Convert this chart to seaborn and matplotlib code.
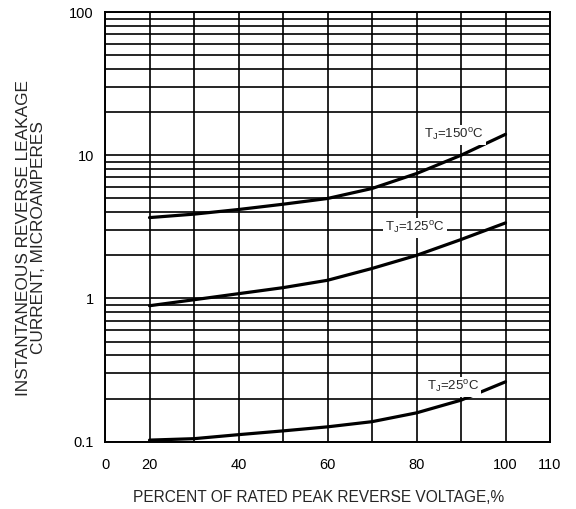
import matplotlib
matplotlib.use("Agg")
import matplotlib.pyplot as plt
import matplotlib.ticker as mticker
import seaborn as sns
import pandas as pd

# percent of rated peak reverse voltage
pct = [20, 30, 40, 50, 60, 70, 80, 90, 100]

# leakage current (microamperes)
i_150 = [3.67, 3.88, 4.18, 4.55, 4.99, 5.86, 7.45, 10.0, 14.0]
i_125 = [0.89, 0.98, 1.08, 1.19, 1.34, 1.62, 2.0, 2.58, 3.37]
i_25 = [0.1026, 0.105, 0.112, 0.119, 0.127, 0.138, 0.159, 0.195, 0.262]

curve_names = ["150", "125", "25"]
label_pos = {"150": (88.4, 13.8), "125": (79.7, 3.1), "25": (88.2, 0.24)}

x_ticks = [10, 20, 40, 60, 80, 100, 110]
x_tick_labels = ["0", "20", "40", "60", "80", "100", "110"]
x_minor = [30, 50, 70, 90]
y_ticks = [0.1, 1, 10, 100]
y_tick_labels = ["0.1", "1", "10", "100"]

df = pd.concat([
    pd.DataFrame({"pct": pct, "current": vals, "tj": name})
    for name, vals in zip(curve_names, [i_150, i_125, i_25])
])

sns.set_style("white")
plt.rcParams["font.family"] = ["Liberation Sans", "DejaVu Sans"]
plt.rcParams["mathtext.fontset"] = "custom"
plt.rcParams["mathtext.rm"] = "Liberation Sans"

fig = plt.figure(figsize=(5.76, 5.09), dpi=100)
ax = fig.add_axes([0.1823, 0.1322, 0.9549 - 0.1823, 0.9764 - 0.1322])

sns.lineplot(data=df, x="pct", y="current", units="tj", estimator=None,
             color="black", linewidth=2.3, ax=ax, zorder=5)

ax.set_yscale("log")
ax.set_xlim(10, 110)
ax.set_ylim(0.1, 100)

ax.set_xticks(x_ticks)
ax.set_xticklabels(x_tick_labels)
ax.set_xticks(x_minor, minor=True)
ax.set_yticks(y_ticks)
ax.set_yticklabels(y_tick_labels)
ax.yaxis.set_minor_locator(mticker.LogLocator(base=10, subs=range(2, 10)))
ax.yaxis.set_minor_formatter(mticker.NullFormatter())

ax.grid(True, which="both", color="black", linewidth=1.2)
ax.tick_params(which="both", length=0, labelsize=10.5, colors="black")
ax.tick_params(axis="x", pad=12)
ax.tick_params(axis="y", pad=8)
for sp in ax.spines.values():
    sp.set_color("black")
    sp.set_linewidth(1.4)

for name in curve_names:
    lx, ly = label_pos[name]
    ax.text(lx, ly, r"T$_{\rm J}$=" + name + r"$^{\rm o}$C", fontsize=9.5,
            ha="center", va="center", zorder=6,
            bbox=dict(facecolor="white", edgecolor="none", pad=1.5))

ax.set_xlabel("PERCENT OF RATED PEAK REVERSE VOLTAGE,%", fontsize=11.2)
ax.xaxis.set_label_coords(0.479, -0.113)
ax.set_ylabel("INSTANTANEOUS REVERSE LEAKAGE\nCURRENT, MICROAMPERES", fontsize=12.4,
              linespacing=1.0)
ax.yaxis.set_label_coords(-0.133, 0.474)

fig.savefig("out.png", dpi=100)
